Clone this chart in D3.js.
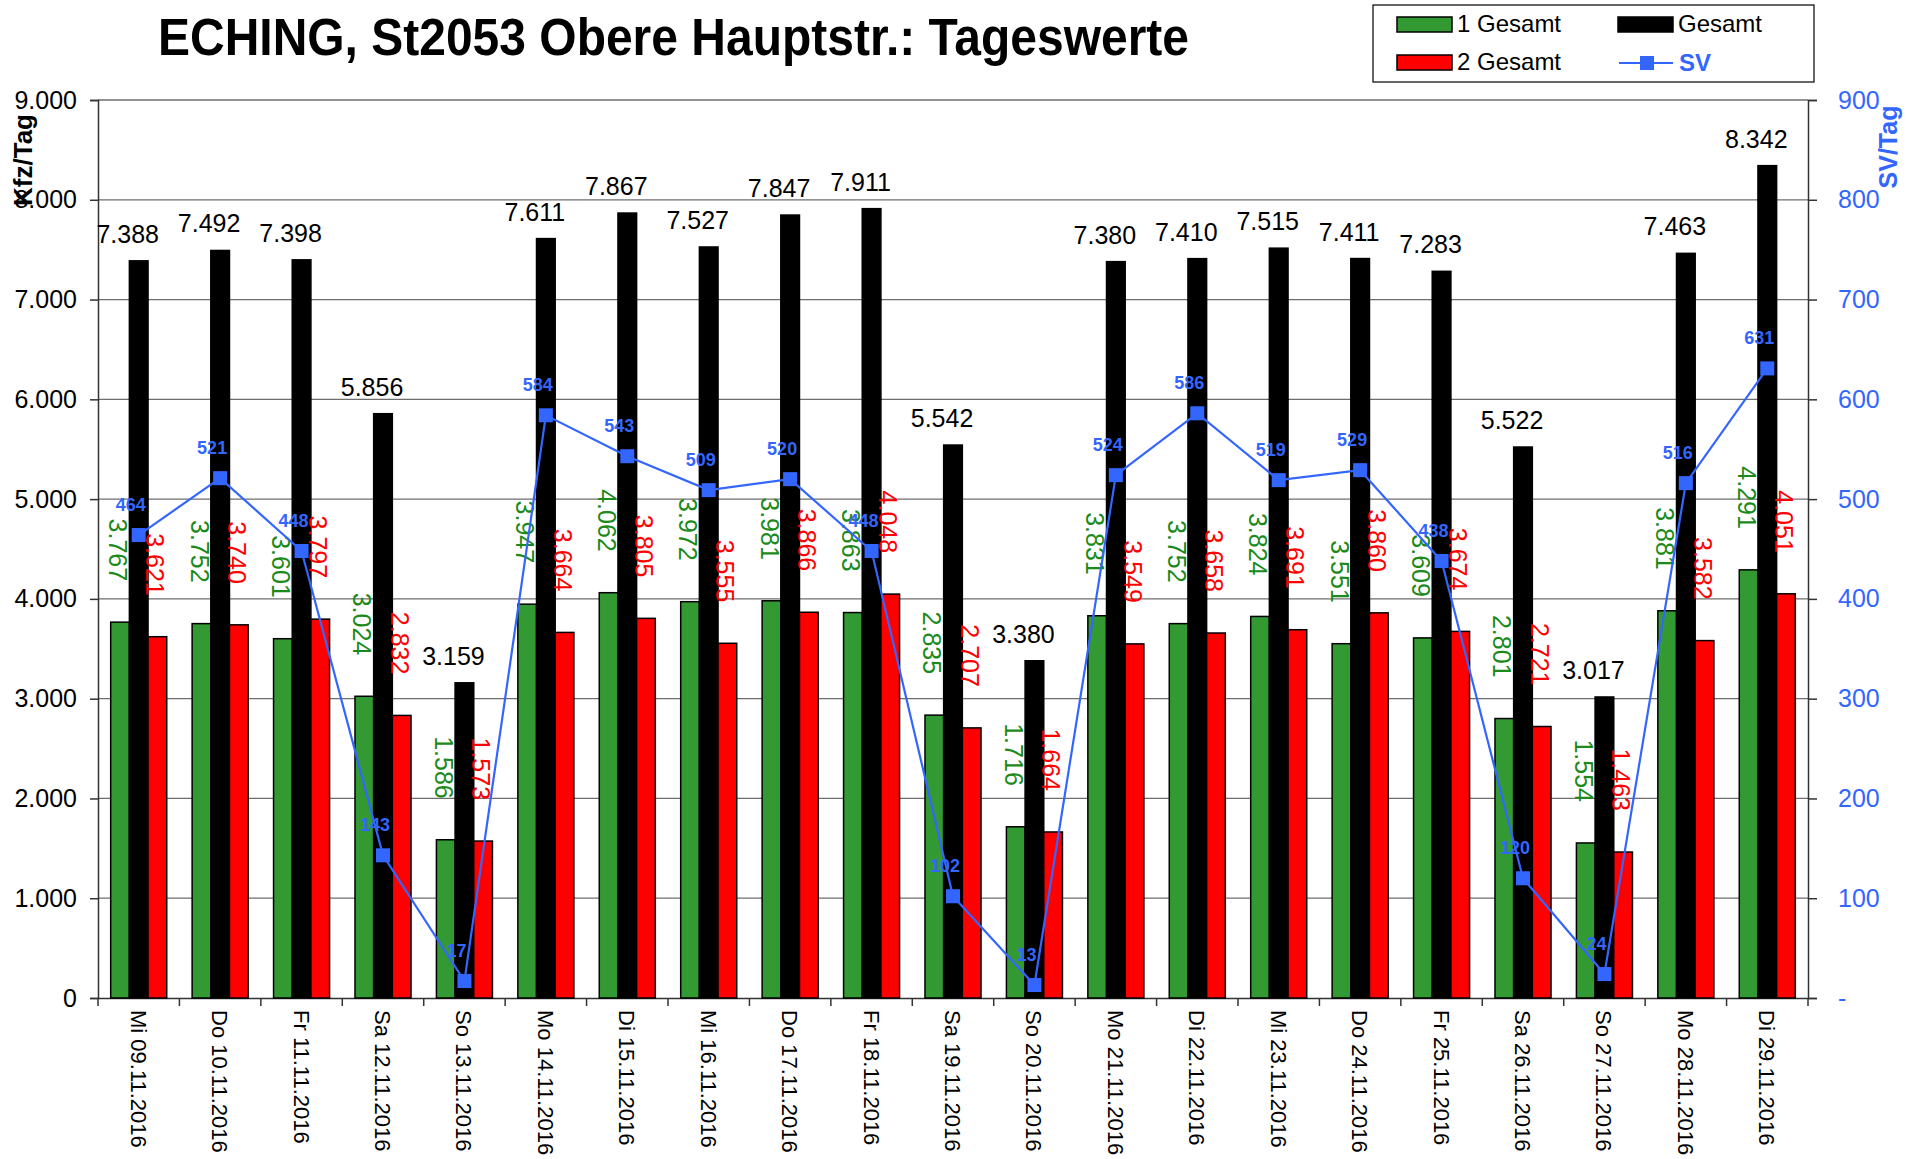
<!DOCTYPE html>
<html>
<head>
<meta charset="utf-8">
<script src="https://cdn.jsdelivr.net/npm/d3@7"></script>
<style>
  body { margin: 0; background: #fff; }
  svg { font-family: "Liberation Sans", Arial, sans-serif; }
</style>
</head>
<body>
<div class="chart"></div>
<script>
// chart data
const dates = ["Mi 09.11.2016", "Do 10.11.2016", "Fr 11.11.2016", "Sa 12.11.2016", "So 13.11.2016",
    "Mo 14.11.2016", "Di 15.11.2016", "Mi 16.11.2016", "Do 17.11.2016", "Fr 18.11.2016",
    "Sa 19.11.2016", "So 20.11.2016", "Mo 21.11.2016", "Di 22.11.2016", "Mi 23.11.2016",
    "Do 24.11.2016", "Fr 25.11.2016", "Sa 26.11.2016", "So 27.11.2016", "Mo 28.11.2016", "Di 29.11.2016"];
const gesamt1 = [3767, 3752, 3601, 3024, 1586, 3947, 4062, 3972, 3981, 3863, 2835, 1716, 3831, 3752, 3824, 3551, 3609, 2801, 1554, 3881, 4291];
const gesamt = [7388, 7492, 7398, 5856, 3159, 7611, 7867, 7527, 7847, 7911, 5542, 3380, 7380, 7410, 7515, 7411, 7283, 5522, 3017, 7463, 8342];
const gesamt2 = [3621, 3740, 3797, 2832, 1573, 3664, 3805, 3555, 3866, 4048, 2707, 1664, 3549, 3658, 3691, 3860, 3674, 2721, 1463, 3582, 4051];
const sv = [464, 521, 448, 143, 17, 584, 543, 509, 520, 448, 102, 13, 524, 586, 519, 529, 438, 120, 24, 516, 631];
const kfzTicks = [0, 1000, 2000, 3000, 4000, 5000, 6000, 7000, 8000, 9000];
const svTicks = [0, 100, 200, 300, 400, 500, 600, 700, 800, 900];

const titleText = "ECHING, St2053 Obere Hauptstr.: Tageswerte";

const green = "#339933", red = "#ff0000", blue = "#3366ff";
const fmt = d3.formatLocale({decimal: ",", thousands: ".", grouping: [3], currency: ["", ""]}).format(",");

// margins
const margin = {top: 100, left: 98, right: 118, bottom: 161};
const width = 1926 - margin.left - margin.right;
const height = 1159 - margin.top - margin.bottom;

const root = d3.select(".chart").append("svg")
    .attr("width", 1926)
    .attr("height", 1159);

const svg = root.append("g")
    .attr("transform", "translate(" + margin.left + "," + margin.top + ")");

// scales
const xScale = d3.scaleBand().domain(dates).range([0, width]).padding(0);
const keys = ["g1", "ges", "g2"];
const xInner = d3.scaleBand().domain(keys).range([0, xScale.bandwidth()]).paddingInner(0).paddingOuter(0.68);
const yScale = d3.scaleLinear().domain([0, 9000]).range([height, 0]);
const svScale = d3.scaleLinear().domain([0, 900]).range([height, 0]);

// gridlines
svg.append("g").attr("class", "grid")
    .selectAll("line")
    .data(kfzTicks.filter(d => d > 0))
    .join("line")
    .attr("x1", 0).attr("x2", width)
    .attr("y1", d => yScale(d)).attr("y2", d => yScale(d))
    .attr("stroke", "#6e6e6e")
    .attr("stroke-width", 1.3);

// axes
const yAxis = d3.axisLeft(yScale).tickValues(kfzTicks).tickSize(8).tickPadding(13).tickFormat(d => fmt(d));
const yAxisChart = svg.append("g").attr("class", "axis y-axis").call(yAxis);
yAxisChart.selectAll("text").attr("font-size", 25).attr("fill", "#000").attr("font-family", null);
yAxisChart.selectAll("line, path").attr("stroke", "#333").attr("stroke-width", 1.5);

const svAxis = d3.axisRight(svScale).tickValues(svTicks).tickSize(9).tickPadding(21).tickFormat(d => d === 0 ? "-" : d);
const svAxisChart = svg.append("g").attr("class", "axis sv-axis")
    .attr("transform", `translate(${width},0)`)
    .call(svAxis);
svAxisChart.selectAll("text").attr("font-size", 25).attr("fill", blue).attr("font-family", null);
svAxisChart.selectAll("line, path").attr("stroke", "#333").attr("stroke-width", 1.5);

const xAxis = d3.axisBottom(xScale).tickSize(0).tickSizeOuter(0);
const xAxisChart = svg.append("g").attr("class", "axis x-axis")
    .attr("transform", `translate(0,${height})`)
    .call(xAxis);
xAxisChart.select("path").attr("stroke", "#333").attr("stroke-width", 1.5);
xAxisChart.selectAll("text")
    .attr("font-size", 22).attr("fill", "#000").attr("font-family", null)
    .attr("y", 0).attr("dy", "0")
    .attr("text-anchor", "start")
    .attr("transform", "translate(-8,12) rotate(90)");

// band boundary ticks on the x axis
xAxisChart.selectAll(".bound")
    .data(d3.range(dates.length + 1))
    .join("line")
    .attr("class", "bound")
    .attr("x1", i => i * xScale.step()).attr("x2", i => i * xScale.step())
    .attr("y1", 0).attr("y2", 8)
    .attr("stroke", "#333").attr("stroke-width", 1.5);

// bars
const rows = dates.map((d, i) => ({date: d, g1: gesamt1[i], ges: gesamt[i], g2: gesamt2[i], sv: sv[i]}));
const colors = {g1: green, ges: "#000", g2: red};

const groups = svg.append("g").attr("class", "bars")
    .selectAll("g")
    .data(rows)
    .join("g")
    .attr("transform", d => `translate(${xScale(d.date)},0)`);

groups.selectAll("rect")
    .data(d => keys.map(k => ({key: k, value: d[k]})))
    .join("rect")
    .attr("x", d => xInner(d.key))
    .attr("width", xInner.bandwidth())
    .attr("y", d => yScale(d.value))
    .attr("height", d => height - yScale(d.value))
    .attr("fill", d => colors[d.key])
    .attr("stroke", "#000")
    .attr("stroke-width", 1.5);

// total labels
groups.append("text")
    .attr("x", xScale.bandwidth() / 2 - 11)
    .attr("y", d => yScale(d.ges) - 18)
    .attr("text-anchor", "middle")
    .attr("font-size", 25)
    .text(d => fmt(d.ges));

// rotated labels for the two directions
const capH = 25 * 0.716;
[["g1", "#1a8a1a"], ["g2", red]].forEach(([k, c]) => {
    groups.append("text")
        .attr("transform", d => `translate(${xInner(k) + xInner.bandwidth() / 2 - 2 - capH / 2},${yScale(d[k]) - 41}) rotate(90)`)
        .attr("text-anchor", "end")
        .attr("font-size", 25)
        .attr("fill", c)
        .text(d => fmt(d[k]));
});

// SV line
const cx = d => xScale(d.date) + xScale.bandwidth() / 2;
const line = d3.line().x(cx).y(d => svScale(d.sv));

svg.append("path")
    .datum(rows)
    .attr("d", line)
    .attr("fill", "none")
    .attr("stroke", blue)
    .attr("stroke-width", 2.2);

svg.append("g").selectAll("rect")
    .data(rows)
    .join("rect")
    .attr("x", d => cx(d) - 7)
    .attr("y", d => svScale(d.sv) - 7)
    .attr("width", 14).attr("height", 14)
    .attr("fill", blue);

svg.append("g").selectAll("text")
    .data(rows)
    .join("text")
    .attr("x", d => cx(d) - 8)
    .attr("y", d => svScale(d.sv) - 24)
    .attr("text-anchor", "middle")
    .attr("font-size", 18)
    .attr("font-weight", "bold")
    .attr("fill", blue)
    .text(d => d.sv);

// axis titles
root.append("text")
    .attr("transform", "translate(32,160) rotate(-90)")
    .attr("text-anchor", "middle")
    .attr("font-size", 26).attr("font-weight", "bold")
    .text("Kfz/Tag");

root.append("text")
    .attr("transform", "translate(1897,147) rotate(-90)")
    .attr("text-anchor", "middle")
    .attr("font-size", 25).attr("font-weight", "bold")
    .attr("fill", blue)
    .text("SV/Tag");

// title
root.append("text")
    .attr("x", 158).attr("y", 55)
    .attr("font-size", 51).attr("font-weight", "bold")
    .attr("textLength", 1031).attr("lengthAdjust", "spacingAndGlyphs")
    .text(titleText);

// legend
const legend = root.append("g").attr("class", "legend");
legend.append("rect")
    .attr("x", 1373).attr("y", 5).attr("width", 441).attr("height", 77)
    .attr("fill", "#fff").attr("stroke", "#000").attr("stroke-width", 1.2);

const legendItems = [
    {label: "1 Gesamt", color: green, x: 1397, y: 17},
    {label: "2 Gesamt", color: red, x: 1397, y: 55},
    {label: "Gesamt", color: "#000", x: 1618, y: 17}
];
legendItems.forEach(it => {
    legend.append("rect")
        .attr("x", it.x).attr("y", it.y).attr("width", 55).attr("height", 15)
        .attr("fill", it.color).attr("stroke", "#000").attr("stroke-width", 1.5);
    legend.append("text")
        .attr("x", it.x + 60).attr("y", it.y + 15)
        .attr("font-size", 24)
        .text(it.label);
});
legend.append("line")
    .attr("x1", 1619).attr("x2", 1673).attr("y1", 63).attr("y2", 63)
    .attr("stroke", blue).attr("stroke-width", 2.2);
legend.append("rect")
    .attr("x", 1640).attr("y", 56).attr("width", 14).attr("height", 14)
    .attr("fill", blue);
legend.append("text")
    .attr("x", 1679).attr("y", 71)
    .attr("font-size", 24).attr("font-weight", "bold")
    .attr("fill", blue)
    .text("SV");
</script>
</body>
</html>
